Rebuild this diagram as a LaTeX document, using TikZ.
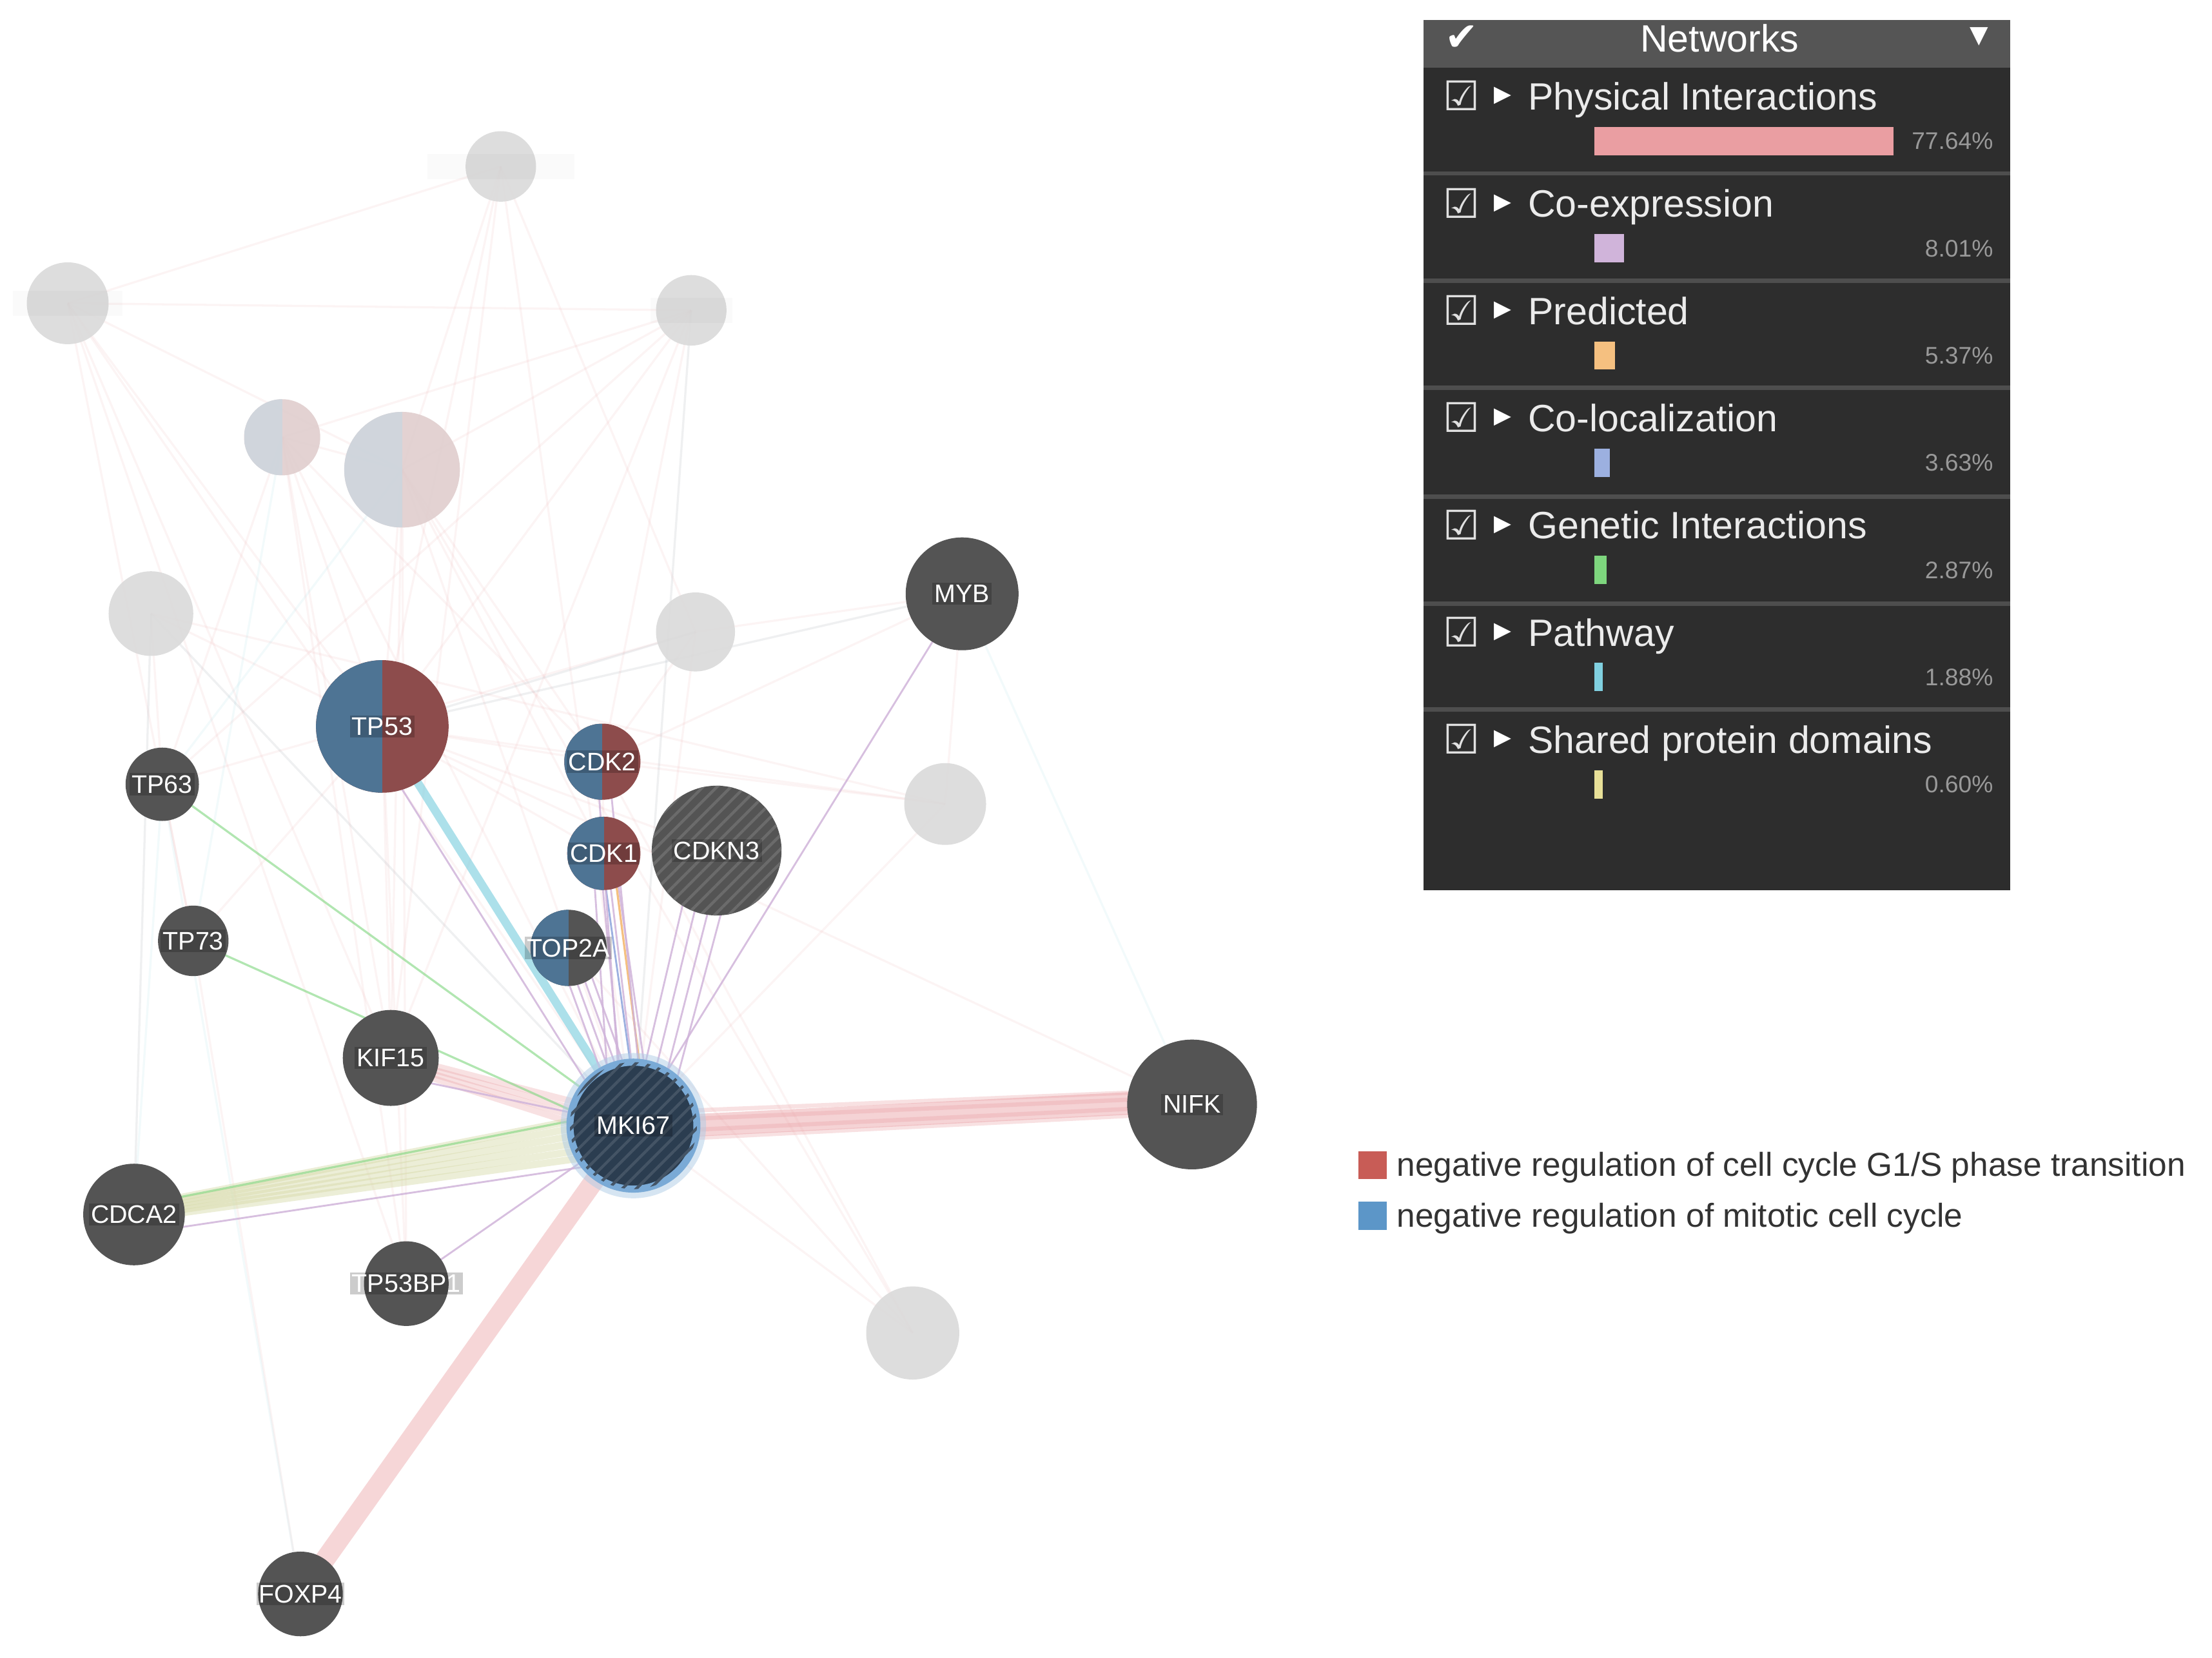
\documentclass[tikz,border=0pt]{standalone}
\usepackage{fontspec}
\setmainfont{Liberation Sans}
\newfontfamily\symfont{DejaVu Sans}
\usetikzlibrary{backgrounds, patterns.meta, positioning}

\definecolor{nodegray}{RGB}{84,84,84}
\definecolor{navy}{RGB}{43,61,80}
\definecolor{goblue}{RGB}{78,116,148}
\definecolor{gored}{RGB}{141,76,76}
\definecolor{glowblue}{RGB}{122,170,214}
\definecolor{fadegray}{RGB}{218,218,218}
\definecolor{fadeblue}{RGB}{206,214,222}
\definecolor{fadered}{RGB}{224,206,206}
\definecolor{panelbg}{RGB}{45,45,45}
\definecolor{panelhead}{RGB}{85,85,85}
\definecolor{panelrule}{RGB}{78,78,78}
\definecolor{physcol}{RGB}{234,158,162}
\definecolor{coexcol}{RGB}{208,180,218}
\definecolor{predcol}{RGB}{245,192,128}
\definecolor{coloccol}{RGB}{156,176,224}
\definecolor{genecol}{RGB}{126,214,126}
\definecolor{pathcol}{RGB}{128,208,224}
\definecolor{domcol}{RGB}{232,224,152}
\definecolor{bandcol}{RGB}{214,218,168}
\definecolor{legred}{RGB}{200,92,86}
\definecolor{legblue}{RGB}{92,150,200}

\begin{document}
\begin{tikzpicture}[x=1pt, y=-1pt,
  gene/.style={circle, fill=nodegray, inner sep=0pt, minimum size=#1},
  faded/.style={circle, fill=fadegray, fill opacity=0.9, inner sep=0pt, minimum size=#1},
  split/.style 2 args={fill=#2, path picture={\fill[#1] (path picture bounding box.south west) rectangle (path picture bounding box.north);}},
  hatch/.style={postaction={pattern={Lines[angle=45,distance=7pt,line width=2pt]}, pattern color=#1}},
  lbl/.style={font=\fontsize{18}{18}\selectfont, text=white, fill=black, fill opacity=0.2, text opacity=1, inner sep=1.5pt},
  fadelbl/.style={fill=black, fill opacity=0.02, minimum height=18pt, minimum width=#1, inner sep=0pt},
  web/.style={draw=physcol, draw opacity=0.11, line width=1.5pt},
  webblue/.style={draw=pathcol, draw opacity=0.1, line width=1.5pt},
  phys/.style={draw=physcol, draw opacity=0.3, line width=#1},
  coex/.style={draw=coexcol, draw opacity=0.85, line width=1.3pt},
  genet/.style={draw=genecol, draw opacity=0.6, line width=1.5pt},
  rowtext/.style={font=\fontsize{27}{27}\selectfont, text=white!92!black, anchor=base west, inner sep=0pt},
  pcttext/.style={font=\fontsize{17}{17}\selectfont, text=white!60!black, anchor=base east, inner sep=0pt},
  legtext/.style={font=\fontsize{23.5}{24}\selectfont, text=black!80, anchor=base west, inner sep=0pt}]
\useasboundingbox (0,0) rectangle (1568,1175);

%% faded genes
\node[faded=50, label={[fadelbl=104]center:{}}] (fadeA) at (355,118) {};
\node[faded=58, label={[fadelbl=78]center:{}}] (fadeB) at (48,215) {};
\node[faded=50, label={[fadelbl=58]center:{}}] (fadeC) at (490,220) {};
\node[faded=54, split={fadeblue}{fadered}] (fadeD) at (200,310) {};
\node[faded=82, split={fadeblue}{fadered}] (fadeE) at (285,333) {};
\node[faded=60] (fadeF) at (107,435) {};
\node[faded=56] (fadeG) at (493,448) {};
\node[faded=58] (fadeH) at (670,570) {};
\node[faded=66] (fadeI) at (647,945) {};

%% query and result genes
\node[gene=80, label={[lbl]center:MYB}] (myb) at (682,421) {};
\node[gene=94, split={goblue}{gored}, label={[lbl]center:TP53}] (tp53) at (271,515) {};
\node[gene=52, label={[lbl]center:TP63}] (tp63) at (115,556) {};
\node[gene=54, split={goblue}{gored}, label={[lbl]center:CDK2}] (cdk2) at (427,540) {};
\node[gene=52, split={goblue}{gored}, label={[lbl]center:CDK1}] (cdk1) at (428,605) {};
\node[gene=92, hatch=black!58, label={[lbl]center:CDKN3}] (cdkn3) at (508,603) {};
\node[gene=50, label={[lbl]center:TP73}] (tp73) at (137,667) {};
\node[gene=54, split={goblue}{nodegray}, label={[lbl]center:TOP2A}] (top2a) at (403,672) {};
\node[gene=68, label={[lbl]center:KIF15}] (kif15) at (277,750) {};
\node[gene=90, fill=navy, draw=glowblue, line width=5pt,
  preaction={draw=glowblue!60, draw opacity=0.5, line width=13pt},
  hatch=white!12!navy, label={[lbl]center:MKI67}] (mki67) at (449,798) {};
\node[gene=92, label={[lbl]center:NIFK}] (nifk) at (845,783) {};
\node[gene=72, label={[lbl]center:CDCA2}] (cdca2) at (95,861) {};
\node[gene=60, label={[lbl]center:TP53BP1}] (tp53bp1) at (288,910) {};
\node[gene=60, label={[lbl]center:FOXP4}] (foxp4) at (213,1130) {};

\begin{scope}[on background layer]
\fill[white] (0,0) rectangle (1568,1175);
% faint web
\foreach \a/\b in {fadeB/tp53, fadeB/kif15, fadeB/mki67, fadeB/tp73, fadeB/fadeE, fadeB/fadeC,
  fadeB/tp53bp1, fadeA/tp53, fadeA/fadeE, fadeA/mki67, fadeA/kif15, fadeA/fadeB, fadeA/fadeG,
  fadeC/tp53, fadeC/fadeE, fadeC/mki67, fadeC/tp63, fadeC/fadeD, fadeC/cdk2, fadeC/kif15,
  fadeD/tp53, fadeD/mki67, fadeD/kif15, fadeD/fadeE, fadeD/tp63, fadeD/cdk2, fadeD/tp53bp1,
  fadeE/tp53, fadeE/mki67, fadeE/kif15, fadeE/cdk1, fadeE/cdk2, fadeE/tp53bp1, fadeE/fadeI,
  fadeF/tp53, fadeF/tp63, fadeF/mki67, fadeF/fadeH, fadeF/cdca2, fadeG/tp53, fadeG/mki67,
  fadeG/myb, fadeG/cdk2, fadeG/tp63, fadeH/tp53, fadeH/cdk2, fadeH/myb, fadeH/mki67,
  fadeI/cdk2, fadeI/top2a, fadeI/mki67, tp53/cdk2, tp53/cdk1, tp53/kif15, tp53/tp73,
  tp53/tp53bp1, tp53/cdkn3, tp53/myb, tp53/nifk, tp63/tp73, tp73/foxp4, cdk1/cdk2, myb/cdk2}
  \draw[web] (\a.center) -- (\b.center);
\foreach \a/\b in {fadeF/mki67, fadeF/cdca2, fadeD/tp73, fadeG/tp53, myb/nifk, fadeE/tp63,
  tp63/cdca2, foxp4/tp63, fadeC/mki67, myb/tp53}
  \draw[webblue] (\a.center) -- (\b.center);
% strong links to MKI67
\draw[draw=physcol, draw opacity=0.45, line width=16pt] ([yshift=-2]mki67.center) -- ([yshift=3]nifk.center);
\foreach \o in {-11,-5,3,9}
  \draw[phys=3pt] ([yshift=\o]mki67.center) -- ([yshift=0.8*\o+3]nifk.center);
\draw[draw=physcol, draw opacity=0.42, line width=14pt] (mki67.center) -- (foxp4.center);
\foreach \o in {-12,-6,0,6}
  \draw[phys=4.5pt] ([yshift=\o]mki67.center) -- ([yshift=0.4*\o]kif15.center);
\foreach \o in {-18,-12,-6,0,6,12}
  \draw[draw=bandcol, draw opacity=0.45, line width=5pt] ([yshift=\o]mki67.center) -- ([yshift=0.3*\o+2]cdca2.center);
\draw[genet] ([yshift=12]mki67.center) -- ([yshift=6]cdca2.center);
\draw[coex] ([yshift=-24]mki67.center) -- ([yshift=-14]cdca2.center);
\draw[draw=pathcol, draw opacity=0.65, line width=6pt] (tp53.center) -- (mki67.center);
\draw[coex] ([xshift=-14]tp53.center) -- ([xshift=-14]mki67.center);
\draw[genet] (tp63.center) -- (mki67.center);
\draw[genet] (tp73.center) -- ([xshift=-20]mki67.center);
\foreach \o in {-8,-3,2,7}
  \draw[coex] ([xshift=\o]cdk1.center) -- ([xshift=2*\o]mki67.center);
\draw[draw=predcol, line width=1.5pt] ([xshift=6]cdk1.center) -- ([xshift=10]mki67.center);
\draw[draw=coloccol, line width=1.3pt] ([xshift=-2]cdk1.center) -- ([xshift=4]mki67.center);
\foreach \o in {-4,4}
  \draw[coex] ([xshift=\o]cdk2.center) -- ([xshift=2*\o]mki67.center);
\foreach \o in {-9,-3,3,9}
  \draw[coex] ([xshift=\o]top2a.center) -- ([xshift=\o]mki67.center);
\foreach \o in {-15,-5,5,15}
  \draw[coex] ([xshift=\o]cdkn3.center) -- ([xshift=0.8*\o+10]mki67.center);
\draw[coex] (myb.center) -- (mki67.center);
\draw[coex] (tp53bp1.center) -- (mki67.center);
\draw[coex] ([yshift=-12]kif15.center) -- (mki67.center);
\end{scope}

%% networks panel
\fill[panelbg] (1009,14) rectangle (1425,631);
\fill[panelhead] (1009,14) rectangle (1425,48);
\node[font=\symfont\fontsize{28}{28}\selectfont, text=white] (hcheck) at (1036,27) {✔};
\node[font=\fontsize{27}{27}\selectfont, text=white] (htitle) at (1219,27) {Networks};
\node[font=\symfont\fontsize{17}{17}\selectfont, text=white] (hmenu) at (1403,26) {▼};
\foreach \y in {123,199,275,352,428,503}
  \draw[panelrule, line width=3pt] (1009,\y) -- (1425,\y);
\foreach \lab/\pct/\w/\col [count=\i from 0, evaluate=\i as \ry using 68+76*\i] in {
  Physical Interactions/77.64\%/212/physcol, Co-expression/8.01\%/21/coexcol,
  Predicted/5.37\%/15/predcol, Co-localization/3.63\%/11/coloccol,
  Genetic Interactions/2.87\%/9/genecol, Pathway/1.88\%/6/pathcol,
  Shared protein domains/0.60\%/6/domcol}{
  \node[font=\symfont\bfseries\fontsize{29}{29}\selectfont, text=white!88!black] (box\i) at (1036,\ry) {☑};
  \node[font=\symfont\fontsize{16}{16}\selectfont, text=white, right=3pt of box\i] (tri\i) {▶};
  \node[rowtext] (row\i) at (1083,\ry+10) {\lab};
  \fill[\col] (1130,\ry+22) rectangle +(\w,20);
  \node[pcttext] (pct\i) at (1413,\ry+38) {\pct};
}

%% annotation legend
\fill[legred] (963,816) rectangle (983,836);
\node[legtext] (legA) at (990,834) {negative regulation of cell cycle G1/S phase transition};
\fill[legblue] (963,852) rectangle (983,872);
\node[legtext] (legB) at (990,870) {negative regulation of mitotic cell cycle};
\end{tikzpicture}
\end{document}
